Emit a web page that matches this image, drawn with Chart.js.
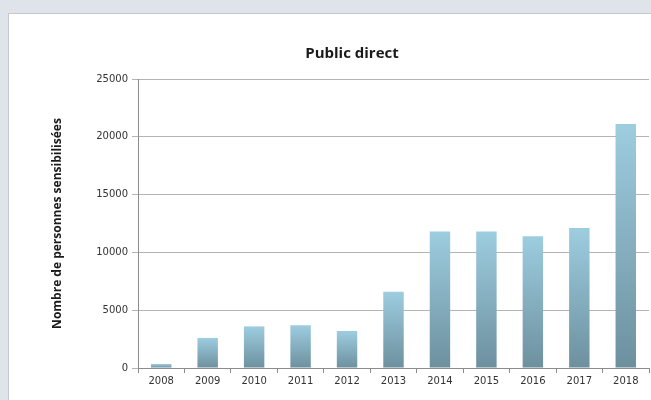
<!DOCTYPE html>
<html>
<head>
<meta charset="utf-8">
<script src="https://cdn.jsdelivr.net/npm/chart.js@4"></script>
<style>
	html, body { margin: 0; padding: 0; background: #dfe3ea; width: 651px; height: 400px; overflow: hidden; }
	#panel { position: absolute; left: 8px; top: 13px; width: 643px; height: 387px; background: #fff; border-left: 1px solid #c4c7cc; border-top: 1px solid #c4c7cc; }
	#canvas1 { display: block; }
</style>
</head>
<body>
<div id="panel"><canvas id="canvas1" width="643" height="387"></canvas></div>
<script>
var years = ["2008", "2009", "2010", "2011", "2012", "2013", "2014", "2015", "2016", "2017", "2018"];
var personnes = [350, 2600, 3600, 3700, 3200, 6600, 11800, 11800, 11400, 12100, 21100];
var yTicks = [0, 5000, 10000, 15000, 20000, 25000];

function barGradient(context) {
	var chart = context.chart;
	if (!chart.chartArea || context.parsed == null) {
		return "#8fbccc";
	}
	var y = chart.scales.y;
	var top = y.getPixelForValue(context.parsed.y);
	var base = y.getPixelForValue(0);
	if (!isFinite(top) || base - top < 1) {
		return "#8fbccc";
	}
	var g = chart.ctx.createLinearGradient(0, top, 0, base);
	g.addColorStop(0, "#9dcde0");
	g.addColorStop(1, "#6d909e");
	return g;
}

var ctx = document.getElementById("canvas1");
new Chart(ctx, {
	type: 'bar',
	data: {
		labels: years,
		datasets: [{
			label: "Nombre de personnes sensibilisées",
			data: personnes,
			backgroundColor: barGradient,
			borderWidth: 0,
			categoryPercentage: 1,
			barPercentage: 0.44
		}]
	},
	options: {
		responsive: false,
		maintainAspectRatio: false,
		animation: false,
		layout: { padding: { left: 46, right: 3, top: 31, bottom: 12 } },
		plugins: {
			legend: { display: false },
			tooltip: { enabled: false },
			title: {
				display: true,
				text: "Public direct",
				color: "#1a1a1a",
				font: { family: "'Open Sans'", size: 15, weight: 'bold' },
				padding: { top: 0, bottom: 16 }
			}
		},
		scales: {
			x: {
				grid: { drawOnChartArea: false, drawTicks: true, tickLength: 5, color: "#8c8c8c", offset: true },
				border: { color: "#8c8c8c" },
				ticks: { color: "#333", font: { family: "'DejaVu Sans'", size: 10 }, padding: 2, maxRotation: 0 }
			},
			y: {
				min: 0,
				max: 25000,
				afterBuildTicks: function(scale) {
					scale.ticks = yTicks.map(function(v) { return { value: v }; });
				},
				afterFit: function(scale) {
					scale.width = 83;
				},
				grid: { color: "#b4b4b4", tickLength: 6, drawTicks: true },
				border: { color: "#8c8c8c" },
				ticks: {
					color: "#333",
					font: { family: "'DejaVu Sans'", size: 10 },
					padding: 4,
					callback: function(v) { return String(v); }
				},
				title: {
					display: true,
					text: "Nombre de personnes sensibilisées",
					color: "#1a1a1a",
					font: { family: "'Open Sans'", size: 12, weight: 'bold' },
					padding: { top: -5, bottom: 0 }
				}
			}
		}
	}
});
</script>
</body>
</html>
